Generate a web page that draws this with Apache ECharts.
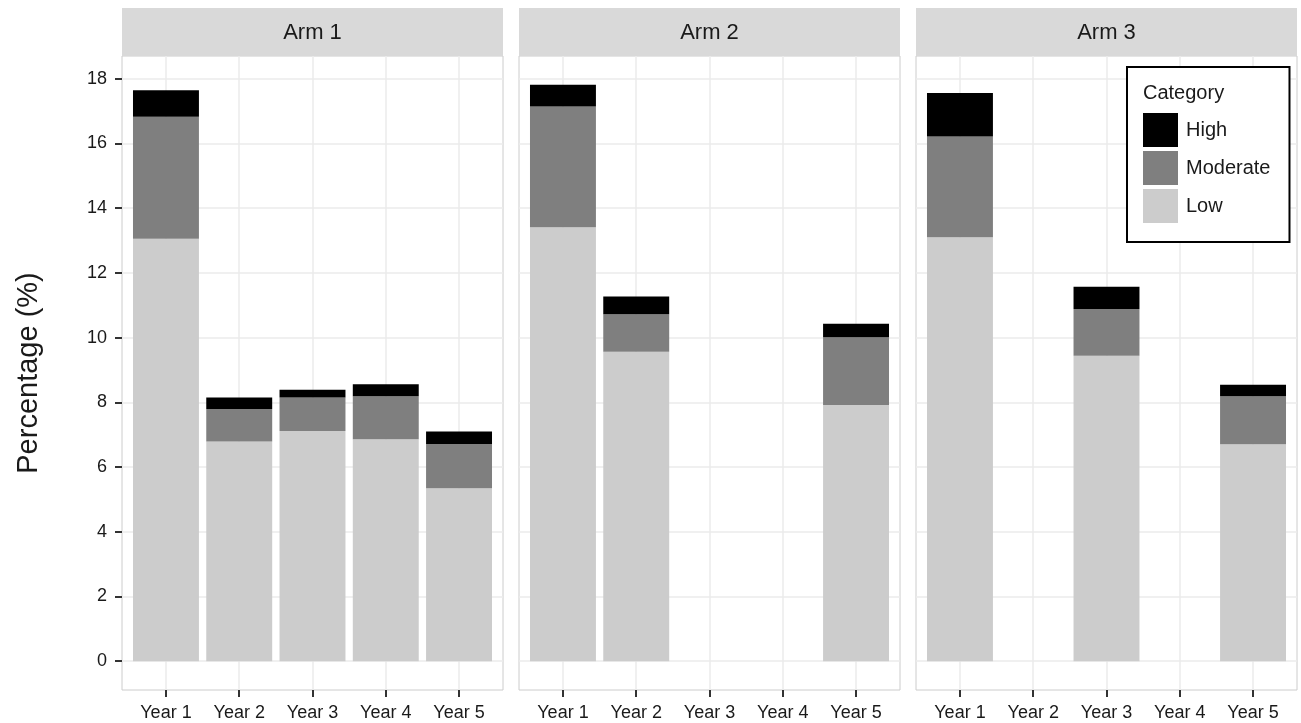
<!DOCTYPE html>
<html>
<head>
<meta charset="utf-8">
<script src="https://cdn.jsdelivr.net/npm/echarts@6/dist/echarts.min.js"></script>
<style>
  html, body { margin: 0; padding: 0; background: #fff; }
  #chart { width: 1301px; height: 723px; }
</style>
</head>
<body>
<div id="chart"></div>
<script>
// data (percent per arm / year / category)
const categories = ['Year 1', 'Year 2', 'Year 3', 'Year 4', 'Year 5'];
const arms = ['Arm 1', 'Arm 2', 'Arm 3'];
const lowValues = [
  [13.05, 6.79, 7.11, 6.86, 5.34],
  [13.41, 9.56, null, null, 7.92],
  [13.10, null, 9.44, null, 6.70]
];
const moderateValues = [
  [3.77, 1.00, 1.04, 1.33, 1.37],
  [3.73, 1.16, null, null, 2.09],
  [3.11, null, 1.44, null, 1.49]
];
const highValues = [
  [0.82, 0.36, 0.24, 0.37, 0.39],
  [0.67, 0.55, null, null, 0.42],
  [1.35, null, 0.69, null, 0.35]
];
const yTicks = [0, 2, 4, 6, 8, 10, 12, 14, 16, 18];
const legendOrder = ['High', 'Moderate', 'Low'];

const levels = [
  { name: 'Low', values: lowValues, color: '#cccccc' },
  { name: 'Moderate', values: moderateValues, color: '#7f7f7f' },
  { name: 'High', values: highValues, color: '#000000' }
];

const font = 'Liberation Sans, Arial, sans-serif';
const textCol = '#1a1a1a';

// shared y scale, 5% expansion like ggplot
let maxTotal = 0;
arms.forEach((a, i) => {
  categories.forEach((c, j) => {
    const t = (lowValues[i][j] || 0) + (moderateValues[i][j] || 0) + (highValues[i][j] || 0);
    if (t > maxTotal) maxTotal = t;
  });
});
const yPad = maxTotal * 0.05;

// panel layout
const panelLeft = [122, 519, 916];
const panelW = 381;
const panelTop = 56;
const panelH = 634;
const xTicks = categories.map((c, j) => j + 1);
const barW = panelW / (categories.length + 0.2) * 0.9;

const grids = [], xAxes = [], yAxes = [], series = [], graphics = [];

arms.forEach((arm, i) => {
  grids.push({
    left: panelLeft[i], top: panelTop, width: panelW, height: panelH,
    show: true, borderColor: '#cccccc', borderWidth: 1, backgroundColor: '#fff'
  });
  xAxes.push({
    gridIndex: i, type: 'value', min: 0.4, max: categories.length + 0.6,
    axisLine: { show: false, onZero: false },
    axisTick: { show: true, length: 7, customValues: xTicks, lineStyle: { color: '#333', width: 2 } },
    axisLabel: {
      customValues: xTicks, margin: 14, fontSize: 18, color: textCol, fontFamily: font,
      formatter: v => categories[Math.round(v) - 1]
    },
    splitLine: { show: true, lineStyle: { color: '#ebebeb', width: 1.5 } }
  });
  yAxes.push({
    gridIndex: i, type: 'value', min: -yPad, max: maxTotal + yPad,
    name: i === 0 ? 'Percentage (%)' : '',
    nameLocation: 'middle', nameRotate: 90, nameGap: 79,
    nameTextStyle: { fontSize: 29, color: textCol, fontFamily: font },
    axisLine: { show: false, onZero: false },
    axisTick: { show: i === 0, length: 7, customValues: yTicks, lineStyle: { color: '#333', width: 2 } },
    axisLabel: { show: i === 0, customValues: yTicks, margin: 15, fontSize: 18, color: textCol, fontFamily: font },
    splitLine: { show: true, lineStyle: { color: '#ebebeb', width: 1.5 } }
  });

  levels.forEach(lv => {
    const pts = [];
    categories.forEach((c, j) => {
      if (lv.values[i][j] != null) pts.push([lv.values[i][j], j + 1]);
    });
    series.push({
      type: 'bar', name: lv.name, xAxisIndex: i, yAxisIndex: i,
      stack: 'arm' + i, barWidth: barW,
      encode: { x: 1, y: 0 },
      data: pts,
      itemStyle: { color: lv.color },
      emphasis: { disabled: true }
    });
  });

  // facet strip
  graphics.push({
    type: 'rect', left: panelLeft[i], top: 8,
    shape: { width: panelW, height: panelTop - 8 },
    style: { fill: '#d9d9d9' }
  });
  graphics.push({
    type: 'text', x: panelLeft[i] + panelW / 2, y: 33,
    style: { text: arm, fill: textCol, font: '22px ' + font, align: 'center', verticalAlign: 'middle' }
  });
});

// legend title
graphics.push({
  type: 'text', x: 1143, y: 93, z: 20,
  style: { text: 'Category', fill: textCol, font: '20px ' + font, align: 'left', verticalAlign: 'middle' }
});

const chart = echarts.init(document.getElementById('chart'));
chart.setOption({
  animation: false,
  textStyle: { fontFamily: font },
  grid: grids,
  xAxis: xAxes,
  yAxis: yAxes,
  series: series,
  graphic: graphics,
  legend: {
    data: legendOrder,
    orient: 'vertical', left: 1127, top: 67,
    icon: 'rect', itemWidth: 35, itemHeight: 34, itemGap: 4,
    padding: [46, 19, 19, 16],
    borderColor: '#000', borderWidth: 2, backgroundColor: '#fff',
    selectedMode: false,
    textStyle: { fontSize: 20, color: textCol, fontFamily: font, padding: [0, 0, 0, 3] }
  }
});
</script>
</body>
</html>
